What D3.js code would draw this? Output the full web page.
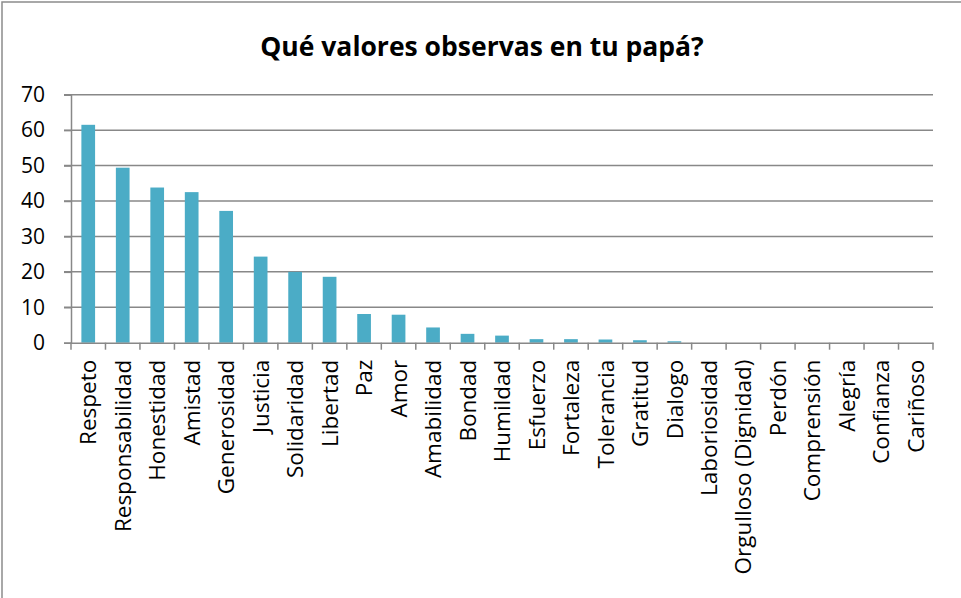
<!DOCTYPE html>
<html>
<head>
<meta charset="utf-8">
<script src="https://cdn.jsdelivr.net/npm/d3@7"></script>
<style>
  html, body { margin: 0; padding: 0; background: #fff; }
  svg { display: block; }
</style>
</head>
<body>
<svg id="chart" width="961" height="598"></svg>
<script>
const title = "Qué valores observas en tu papá?";
const categories = ["Respeto","Responsabilidad","Honestidad","Amistad","Generosidad","Justicia","Solidaridad","Libertad","Paz","Amor","Amabilidad","Bondad","Humildad","Esfuerzo","Fortaleza","Tolerancia","Gratitud","Dialogo","Laboriosidad","Orgulloso (Dignidad)","Perdón","Comprensión","Alegría","Confianza","Cariñoso"];
const values = [61.5,49.4,43.8,42.5,37.2,24.3,20.0,18.6,8.1,7.9,4.3,2.5,2.0,1.0,1.0,0.9,0.7,0.4,0,0,0,0,0,0,0];
const yTicks = [0,10,20,30,40,50,60,70];

const svg = d3.select("#chart");
const W = 961, H = 598;
const m = {left: 71, right: 28, top: 94.7, bottom: 598 - 342.7};
const gridColor = "#888888";
const font = "'Open Sans', sans-serif";

// outer border
svg.append("rect").attr("x", 2).attr("y", 2).attr("width", W + 10).attr("height", H + 10)
  .attr("fill", "none").attr("stroke", "#8c8c8c").attr("stroke-width", 1.5);

const x = d3.scaleBand().domain(categories).range([m.left, W - m.right]).paddingInner(0).paddingOuter(0);
const y = d3.scaleLinear().domain([0, 70]).range([H - m.bottom, m.top]);

// gridlines
svg.append("g").selectAll("line").data(yTicks.filter(d => d > 0)).join("line")
  .attr("x1", m.left - 7).attr("x2", W - m.right)
  .attr("y1", d => y(d)).attr("y2", d => y(d))
  .attr("stroke", gridColor).attr("stroke-width", 1.5);

// y axis
const yAxis = svg.append("g").attr("transform", `translate(${m.left},0)`)
  .call(d3.axisLeft(y).tickValues(yTicks).tickSize(7).tickPadding(19));
yAxis.select(".domain").attr("stroke", gridColor).attr("stroke-width", 1.5);
yAxis.selectAll(".tick line").attr("stroke", gridColor).attr("stroke-width", 1.5);
yAxis.selectAll(".tick text").attr("font-family", font).attr("font-size", 21).attr("fill", "#000");

// bars
const bw = 13.7;
svg.append("g").selectAll("rect").data(categories).join("rect")
  .attr("x", (d) => x(d) + x.bandwidth() / 2 - bw / 2)
  .attr("width", bw)
  .attr("y", (d, i) => y(values[i]))
  .attr("height", (d, i) => y(0) - y(values[i]))
  .attr("fill", "#4BACC6");

// x axis
const xAxis = svg.append("g").attr("transform", `translate(0,${y(0)})`)
  .call(d3.axisBottom(x).tickSize(0).tickFormat(""));
xAxis.select(".domain").attr("stroke", gridColor).attr("stroke-width", 1.5);
// boundary tick marks
const bounds = categories.map(c => x(c)).concat([W - m.right]);
svg.append("g").selectAll("line").data(bounds).join("line")
  .attr("x1", d => d).attr("x2", d => d)
  .attr("y1", y(0)).attr("y2", y(0) + 7)
  .attr("stroke", gridColor).attr("stroke-width", 1.5);

// x labels
svg.append("g").selectAll("text").data(categories).join("text")
  .attr("transform", d => `translate(${x(d) + x.bandwidth() / 2},${y(0) + 17}) rotate(-90)`)
  .attr("text-anchor", "end")
  .attr("dy", "0.36em")
  .attr("font-family", font).attr("font-size", 22.5).attr("fill", "#000")
  .text(d => d);

// title
svg.append("text").attr("x", 482).attr("y", 56)
  .attr("text-anchor", "middle")
  .attr("font-family", font).attr("font-weight", "bold").attr("font-size", 26.5).attr("fill", "#000")
  .text(title);
</script>
</body>
</html>
